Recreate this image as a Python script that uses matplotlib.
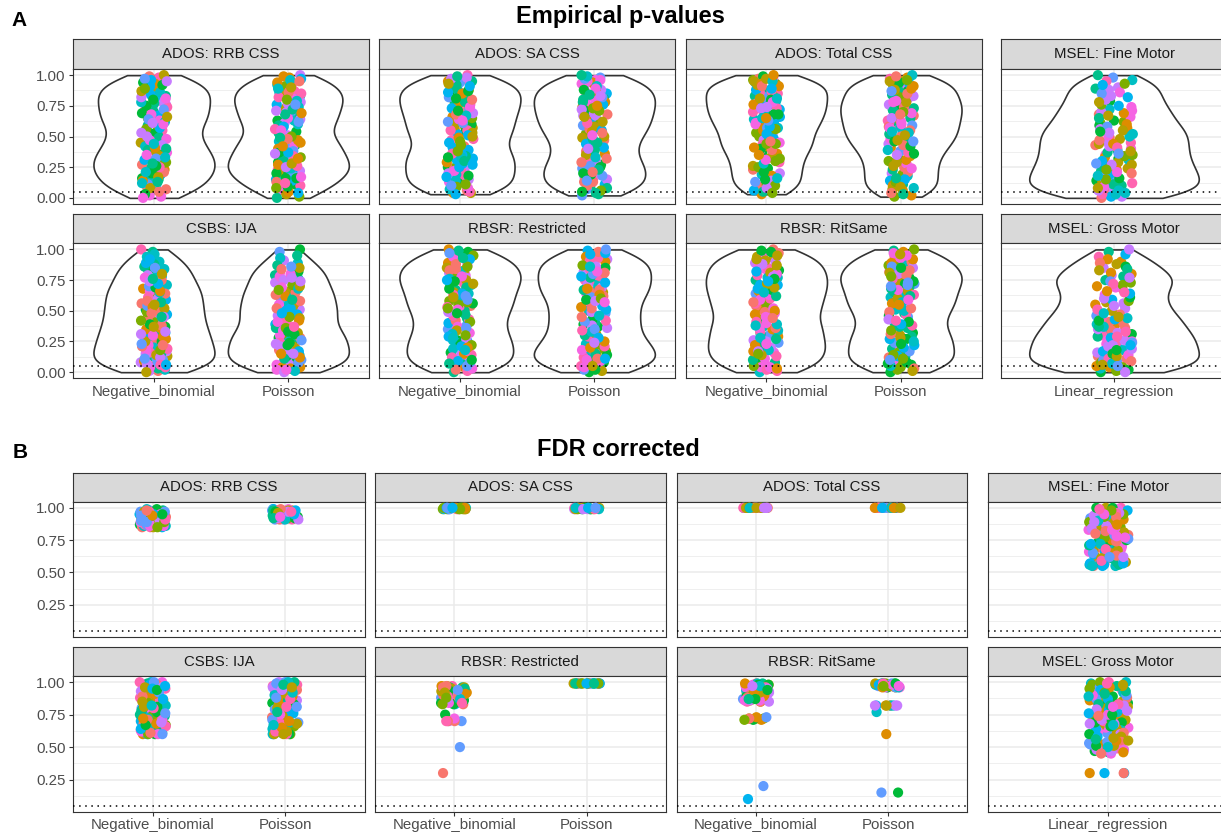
import numpy as np
import matplotlib
matplotlib.use("Agg")
import matplotlib.pyplot as plt

plt.rcParams['font.family'] = ['Liberation Sans', 'DejaVu Sans']

# ---------------- data ----------------
models = ["Negative_binomial", "Poisson"]
lmModel = ["Linear_regression"]
facetNames = ["ADOS: RRB CSS", "ADOS: SA CSS", "ADOS: Total CSS", "MSEL: Fine Motor",
              "CSBS: IJA", "RBSR: Restricted", "RBSR: RitSame", "MSEL: Gross Motor"]
yTicksA = [0.0, 0.25, 0.5, 0.75, 1.0]
yTicksB = [0.25, 0.5, 0.75, 1.0]
cutoff = 0.05

# Empirical p-values (in hundredths)
rrbNB = np.array([0, 1, 2, 3, 5, 6, 7, 8, 9,
                  10, 11, 12, 13, 14, 15, 15, 16, 17, 18, 19,
                  20, 21, 21, 22, 23, 24, 25, 25, 26, 27, 28, 28, 29,
                  30, 31, 32, 32, 33, 34, 35, 36, 37, 37, 38, 39,
                  40, 41, 42, 43, 44, 45, 46, 47, 48, 49,
                  50, 51, 52, 53, 55, 56, 57, 58, 59,
                  60, 61, 62, 63, 64, 65, 65, 66, 67, 68, 69,
                  70, 71, 72, 73, 74, 74, 75, 76, 77, 78, 79,
                  80, 81, 82, 82, 83, 84, 85, 86, 87, 87, 88, 89,
                  90, 91, 92, 93, 94, 95, 96, 97, 98, 99, 100]) / 100
rrbPois = np.array([0, 1, 3, 4, 5, 6, 8, 9,
                    10, 11, 12, 13, 14, 15, 16, 16, 17, 18, 19,
                    20, 21, 21, 22, 23, 23, 24, 25, 26, 26, 27, 28, 28, 29,
                    30, 31, 32, 32, 33, 34, 35, 36, 37, 37, 38, 39,
                    40, 41, 42, 43, 44, 45, 45, 46, 47, 48, 49,
                    50, 51, 53, 54, 55, 56, 58, 59,
                    60, 61, 62, 63, 63, 64, 65, 66, 67, 68, 69,
                    70, 71, 72, 73, 74, 75, 76, 76, 77, 78, 79,
                    80, 81, 81, 82, 83, 84, 85, 86, 86, 87, 88, 89,
                    90, 91, 92, 93, 94, 95, 96, 97, 98, 99, 100]) / 100
saNB = np.array([3, 4, 4, 5, 6, 7, 8, 9,
                 10, 11, 12, 13, 14, 14, 15, 16, 17, 18, 19,
                 20, 21, 22, 23, 24, 25, 25, 26, 27, 28, 29,
                 30, 31, 32, 33, 33, 34, 35, 36, 37, 38, 39,
                 40, 41, 42, 43, 45, 46, 47, 48, 49,
                 50, 51, 52, 53, 54, 55, 55, 56, 57, 58, 59,
                 60, 61, 62, 63, 64, 65, 66, 66, 67, 68, 69,
                 70, 71, 72, 72, 73, 74, 75, 76, 77, 77, 78, 79,
                 80, 81, 81, 82, 83, 84, 85, 85, 86, 87, 88, 88, 89,
                 90, 91, 92, 93, 94, 95, 95, 96, 97, 98, 99, 100]) / 100
saPois = np.array([2, 3, 4, 5, 6, 7, 8, 9,
                   10, 11, 12, 13, 13, 14, 15, 16, 17, 18, 19,
                   20, 21, 22, 23, 24, 24, 25, 26, 27, 28, 29,
                   30, 31, 32, 33, 35, 36, 37, 38, 39,
                   40, 41, 42, 44, 45, 46, 47, 48, 49,
                   50, 51, 52, 53, 54, 55, 56, 56, 57, 58, 59,
                   60, 61, 62, 62, 63, 64, 65, 66, 67, 67, 68, 69,
                   70, 71, 71, 72, 73, 74, 75, 75, 76, 77, 78, 78, 79,
                   80, 81, 82, 82, 83, 84, 85, 85, 86, 87, 88, 88, 89,
                   90, 91, 92, 93, 94, 95, 96, 96, 97, 98, 99, 100]) / 100
totalNB = np.array([3, 4, 5, 6, 8, 9,
                    10, 11, 13, 14, 15, 16, 18, 19,
                    20, 21, 23, 24, 25, 26, 28, 29,
                    30, 31, 32, 33, 35, 36, 37, 38, 39,
                    40, 41, 42, 43, 44, 44, 45, 46, 47, 48, 49,
                    50, 51, 52, 53, 54, 55, 56, 57, 57, 58, 59,
                    60, 61, 61, 62, 63, 64, 65, 65, 66, 67, 68, 68, 69,
                    70, 71, 71, 72, 73, 73, 74, 75, 76, 76, 77, 78, 78, 79,
                    80, 81, 81, 82, 83, 84, 84, 85, 86, 86, 87, 88, 88, 89,
                    90, 91, 91, 92, 93, 93, 94, 95, 95, 96, 97, 97, 98, 99, 100]) / 100
totalPois = np.array([1, 2, 3, 4, 6, 7, 8, 9,
                      10, 11, 13, 14, 15, 16, 18, 19,
                      20, 21, 23, 24, 25, 26, 28, 29,
                      30, 31, 32, 34, 35, 36, 37, 38, 39,
                      40, 41, 42, 43, 44, 45, 46, 46, 47, 48, 49,
                      50, 51, 51, 52, 53, 54, 54, 55, 56, 57, 58, 58, 59,
                      60, 61, 62, 62, 63, 64, 65, 65, 66, 67, 68, 68, 69,
                      70, 71, 71, 72, 73, 74, 74, 75, 76, 76, 77, 78, 78, 79,
                      80, 81, 82, 83, 83, 84, 85, 86, 87, 87, 88, 89,
                      90, 91, 92, 92, 93, 94, 95, 96, 96, 97, 98, 99, 100]) / 100
fineLR = np.array([0, 1, 1, 2, 3, 3, 4, 5, 6, 6, 7, 8, 8, 9,
                   10, 11, 12, 12, 13, 14, 15, 15, 16, 17, 18, 18, 19,
                   20, 21, 22, 23, 23, 24, 25, 26, 27, 27, 28, 29,
                   30, 31, 32, 33, 34, 35, 35, 36, 37, 38, 39,
                   40, 41, 42, 43, 44, 44, 45, 46, 47, 48, 49,
                   50, 51, 52, 53, 53, 54, 55, 56, 57, 58, 59,
                   60, 61, 62, 63, 65, 66, 67, 68, 69,
                   70, 71, 72, 74, 75, 76, 78, 79,
                   80, 82, 83, 85, 86, 88, 89,
                   90, 92, 93, 95, 96, 98, 100]) / 100
ijaNB = np.array([0, 1, 1, 2, 3, 4, 4, 5, 6, 6, 7, 8, 8, 9,
                  10, 11, 11, 12, 13, 13, 14, 15, 16, 16, 17, 18, 18, 19,
                  20, 21, 22, 22, 23, 24, 25, 25, 26, 27, 28, 28, 29,
                  30, 31, 32, 33, 33, 34, 35, 36, 37, 37, 38, 39,
                  40, 41, 42, 43, 44, 45, 45, 46, 47, 48, 49,
                  50, 51, 52, 53, 54, 54, 55, 56, 57, 58, 59,
                  60, 61, 62, 63, 64, 65, 66, 66, 67, 68, 69,
                  70, 71, 72, 74, 75, 76, 77, 78, 79,
                  80, 81, 83, 84, 85, 86, 88, 89,
                  90, 92, 94, 96, 98, 100]) / 100
ijaPois = np.array([0, 1, 2, 2, 3, 4, 4, 5, 6, 7, 7, 8, 9, 9,
                    10, 11, 12, 12, 13, 14, 14, 15, 15, 16, 17, 17, 18, 19,
                    20, 21, 21, 22, 23, 24, 24, 25, 26, 26, 27, 28, 28, 29,
                    30, 31, 31, 32, 33, 34, 35, 36, 36, 37, 38, 39,
                    40, 41, 42, 43, 44, 45, 46, 47, 47, 48, 49,
                    50, 51, 52, 52, 53, 54, 55, 56, 57, 58, 59,
                    60, 61, 62, 63, 64, 64, 65, 66, 67, 68, 69,
                    70, 71, 73, 74, 75, 76, 77, 78, 79,
                    80, 81, 82, 84, 85, 86, 87, 89,
                    91, 93, 95, 98, 100]) / 100
restrNB = np.array([0, 1, 2, 3, 4, 5, 5, 6, 7, 8, 9,
                    10, 11, 12, 13, 14, 14, 15, 16, 17, 18, 19,
                    20, 21, 22, 23, 24, 25, 26, 26, 27, 28, 29,
                    30, 31, 32, 34, 35, 36, 37, 38, 39,
                    40, 41, 42, 43, 44, 46, 47, 48, 49,
                    50, 51, 52, 53, 53, 54, 55, 56, 57, 58, 59,
                    60, 61, 62, 63, 64, 64, 65, 66, 67, 68, 69,
                    70, 71, 72, 72, 73, 74, 75, 75, 76, 77, 78, 78, 79,
                    80, 81, 82, 83, 83, 84, 85, 86, 86, 87, 88, 89,
                    90, 91, 92, 93, 94, 95, 96, 97, 98, 99, 100]) / 100
restrPois = np.array([0, 1, 2, 2, 3, 4, 5, 5, 6, 7, 8, 8, 9,
                      10, 11, 11, 12, 13, 14, 14, 15, 16, 17, 17, 18, 19,
                      20, 21, 22, 23, 23, 24, 25, 26, 27, 28, 29,
                      30, 31, 33, 34, 35, 36, 37, 38, 39,
                      40, 41, 42, 43, 45, 46, 47, 48, 49,
                      50, 51, 52, 53, 54, 56, 57, 58, 59,
                      60, 61, 62, 63, 64, 65, 66, 67, 67, 68, 69,
                      70, 71, 72, 73, 73, 74, 75, 76, 77, 78, 79,
                      80, 81, 82, 82, 83, 84, 85, 86, 86, 87, 88, 89,
                      90, 91, 92, 93, 94, 95, 96, 97, 98, 99, 100]) / 100
ritNB = np.array([0, 1, 2, 3, 4, 4, 5, 6, 7, 8, 9,
                  10, 11, 12, 13, 14, 15, 16, 17, 17, 18, 19,
                  20, 21, 22, 23, 23, 24, 25, 26, 27, 28, 29,
                  30, 31, 32, 33, 34, 35, 36, 36, 37, 38, 39,
                  40, 41, 42, 43, 44, 45, 47, 48, 49,
                  50, 51, 52, 52, 53, 54, 55, 56, 57, 58, 59,
                  60, 61, 62, 63, 64, 65, 65, 66, 67, 68, 69,
                  70, 71, 71, 72, 73, 74, 75, 76, 77, 77, 78, 79,
                  80, 81, 82, 83, 84, 84, 85, 86, 87, 88, 89,
                  90, 91, 92, 93, 94, 95, 96, 97, 98, 99, 100]) / 100
ritPois = np.array([0, 1, 2, 3, 4, 5, 6, 6, 7, 8, 9,
                    10, 11, 12, 13, 13, 14, 15, 16, 17, 18, 19,
                    20, 21, 22, 23, 24, 25, 26, 27, 27, 28, 29,
                    30, 31, 32, 33, 34, 36, 37, 38, 39,
                    40, 41, 42, 43, 45, 46, 47, 48, 49,
                    50, 51, 52, 53, 54, 55, 55, 56, 57, 58, 59,
                    60, 61, 62, 63, 63, 64, 65, 66, 67, 68, 69,
                    70, 71, 72, 72, 73, 74, 74, 75, 76, 77, 77, 78, 79,
                    80, 81, 81, 82, 83, 84, 85, 85, 86, 87, 88, 89,
                    90, 91, 92, 93, 94, 95, 96, 97, 98, 99, 100]) / 100
grossLR = np.array([0, 0, 1, 2, 2, 3, 4, 4, 5, 5, 6, 7, 7, 8, 9, 9,
                    10, 11, 11, 12, 13, 13, 14, 15, 16, 16, 17, 18, 18, 19,
                    20, 21, 22, 22, 23, 24, 24, 25, 26, 26, 27, 28, 29, 29,
                    30, 31, 32, 32, 33, 34, 35, 36, 37, 37, 38, 39,
                    40, 41, 42, 43, 44, 44, 45, 46, 47, 48, 49,
                    50, 51, 52, 54, 55, 56, 57, 58, 59,
                    60, 61, 63, 64, 65, 66, 68, 69,
                    70, 71, 72, 73, 74, 75, 75, 76, 77, 78, 79,
                    80, 81, 83, 84, 85, 86, 88, 89,
                    90, 92, 94, 96, 98, 100]) / 100

# FDR corrected p-values (in hundredths)
rrbNB_fdr = np.array([85, 85, 85, 85, 85, 86, 86, 86, 86, 86, 87, 87, 87, 87, 87, 87,
                      88, 88, 88, 88, 88, 89, 89, 89, 89, 89, 90, 90, 90, 90, 90,
                      91, 91, 91, 91, 91, 92, 92, 92, 92, 92, 92, 93, 93, 93, 93, 93, 93,
                      94, 94, 94, 94, 94, 94, 95, 95, 95, 95, 95, 95, 96, 96, 96, 96, 96, 96,
                      97, 97, 97, 97, 97, 97, 98, 98, 98, 98, 99, 99]) / 100
rrbPois_fdr = np.array([91, 91, 91, 91, 91, 91, 92, 92, 92, 92, 92, 92, 92,
                        93, 93, 93, 93, 93, 93, 93, 93, 94, 94, 94, 94, 94, 94, 94, 94,
                        95, 95, 95, 95, 95, 95, 95, 95, 96, 96, 96, 96, 96, 96, 96, 96,
                        97, 97, 97, 97, 97, 97, 97, 97, 98, 98, 98, 98, 98, 98, 98,
                        99, 99, 99, 99]) / 100
saNB_fdr = np.array([99, 99, 99, 99, 99, 99, 99, 99, 99, 99, 99, 99, 99, 99,
                     100, 100, 100, 100, 100, 100, 100, 100, 100, 100, 100, 100, 100, 100]) / 100
saPois_fdr = np.array([99, 99, 99, 99, 99, 99, 99, 99, 99, 99, 99, 99, 99, 99,
                       100, 100, 100, 100, 100, 100, 100, 100, 100, 100, 100, 100, 100, 100]) / 100
totalNB_fdr = np.array([100, 100, 100, 100, 100, 100, 100, 100, 100, 100, 100, 100, 100,
                        100, 100, 100, 100, 100, 100, 100, 100, 100, 100, 100, 100, 100]) / 100
totalPois_fdr = np.array([100, 100, 100, 100, 100, 100, 100, 100, 100, 100, 100, 100, 100,
                          100, 100, 100, 100, 100, 100, 100, 100, 100, 100, 100, 100, 100]) / 100
fineLR_fdr = np.array([55, 55, 55, 55, 56, 56, 56, 57, 57, 57, 57, 58, 58, 59, 59, 60, 60,
                       61, 61, 62, 62, 63, 63, 64, 64, 65, 65, 66, 66, 67, 67, 68, 68, 69, 69,
                       70, 70, 71, 71, 72, 72, 73, 73, 74, 74, 75, 75, 76, 76, 77, 77, 78, 78,
                       79, 79, 80, 80, 81, 81, 82, 82, 83, 83, 84, 84, 85, 85, 86, 86, 87, 87,
                       88, 88, 89, 89, 90, 90, 91, 91, 92, 92, 93, 93, 94, 94, 95, 95, 96, 96,
                       97, 97, 98, 98, 99, 99, 100, 100, 100, 100]) / 100
ijaNB_fdr = np.array([60, 60, 60, 60, 60, 60, 61, 61, 62, 62, 63, 63, 64, 64, 65, 65,
                      66, 66, 67, 67, 68, 68, 69, 69, 70, 70, 71, 71, 72, 72, 73, 73,
                      74, 74, 75, 75, 76, 76, 77, 77, 78, 78, 79, 79, 80, 80, 81, 81,
                      82, 82, 83, 83, 84, 84, 85, 85, 86, 86, 87, 87, 88, 88, 89, 89,
                      90, 90, 91, 91, 92, 92, 93, 93, 94, 94, 95, 95, 96, 96, 97, 97,
                      98, 98, 99, 99, 100, 100, 100, 100]) / 100
ijaPois_fdr = np.array([60, 60, 60, 60, 60, 60, 60, 61, 62, 62, 63, 64, 64, 65, 66, 66,
                        67, 67, 68, 68, 69, 69, 70, 71, 71, 72, 72, 73, 74, 74, 75, 75,
                        76, 77, 77, 78, 78, 79, 80, 80, 81, 81, 82, 83, 83, 84, 84, 85,
                        86, 86, 87, 87, 88, 89, 89, 90, 90, 91, 92, 92, 93, 93, 94, 94,
                        95, 95, 96, 96, 97, 97, 98, 98, 99, 99, 100, 100, 100, 100]) / 100
restrNB_fdr = np.array([30, 50, 70, 70, 70, 70, 70, 72, 75,
                        83, 83, 83, 83, 84, 84, 84, 84, 85, 85, 85, 85, 86, 86, 86, 86,
                        87, 87, 87, 87, 88, 88, 88, 88, 89, 89, 89, 89, 90, 90, 90, 90,
                        91, 91, 91, 91, 92, 92, 92, 92, 93, 93, 93, 93, 94, 94, 94, 94,
                        95, 95, 95, 95, 96, 96, 96, 96, 97, 97, 97, 97]) / 100
restrPois_fdr = np.array([99, 99, 99, 99, 99, 99, 99, 99, 99, 99, 99, 99, 99,
                          99, 99, 99, 99, 99, 99, 99, 99, 99, 99, 99, 99, 99]) / 100
ritNB_fdr = np.array([10, 20, 71, 71, 71, 72, 72, 72, 72, 73, 73,
                      85, 85, 85, 85, 86, 86, 86, 86, 87, 87, 87, 87, 88, 88, 88, 88,
                      89, 89, 89, 89, 90, 90, 90, 90, 91, 91, 91, 91, 92, 92, 92, 92,
                      93, 93, 93, 93, 94, 94, 94, 94, 95, 95, 95, 95, 96, 96, 96, 96,
                      97, 97, 97, 97, 98, 98, 98, 98, 99, 99, 99, 99]) / 100
ritPois_fdr = np.array([15, 15, 60, 77, 82, 82, 82, 82, 82, 82, 82, 82, 82,
                        96, 96, 96, 96, 96, 96, 96, 96, 97, 97, 97, 97, 97, 97, 97, 97, 97, 97,
                        98, 98, 98, 98, 98, 98, 98, 98, 98, 98, 99, 99, 99, 99, 99, 99, 99, 99]) / 100
grossLR_fdr = np.array([30, 30, 30, 30, 45, 45, 46, 46, 47, 47, 48, 48, 49, 49, 50, 50,
                        51, 51, 52, 52, 53, 53, 54, 54, 55, 55, 56, 56, 57, 57, 58, 58,
                        59, 59, 60, 60, 61, 61, 62, 62, 63, 63, 64, 64, 65, 65, 66, 66,
                        67, 67, 68, 68, 69, 69, 70, 70, 71, 71, 72, 72, 73, 73, 74, 74,
                        75, 75, 76, 76, 77, 77, 78, 78, 79, 79, 80, 80, 81, 81, 82, 82,
                        83, 83, 84, 84, 85, 85, 86, 86, 87, 87, 88, 88, 89, 89, 90, 90,
                        91, 91, 92, 92, 93, 93, 94, 94, 95, 95, 96, 96, 97, 97, 98, 98,
                        99, 99, 100, 100, 100]) / 100

groupsA = [[rrbNB, rrbPois], [saNB, saPois], [totalNB, totalPois], [fineLR],
           [ijaNB, ijaPois], [restrNB, restrPois], [ritNB, ritPois], [grossLR]]
groupsB = [[rrbNB_fdr, rrbPois_fdr], [saNB_fdr, saPois_fdr], [totalNB_fdr, totalPois_fdr], [fineLR_fdr],
           [ijaNB_fdr, ijaPois_fdr], [restrNB_fdr, restrPois_fdr], [ritNB_fdr, ritPois_fdr], [grossLR_fdr]]

# ggplot-like hue palette (12 levels)
palette = ["#F8766D", "#DE8C00", "#B79F00", "#7CAE00", "#00BA38", "#00C08B",
           "#00BFC4", "#00B4F0", "#619CFF", "#C77CFF", "#F564E3", "#FF64B0"]

W, H = 1221, 836
fig = plt.figure(figsize=(W / 100, H / 100), dpi=100)
fig.patch.set_facecolor("white")

# pixel layout: column x-ranges, rows as (strip top, strip bottom / panel top, panel bottom)
colsA = [(73.3, 369), (379.3, 675), (685.7, 981.7), (1001, 1227)]
rowsA = [(39, 69, 204), (214.3, 243.3, 378.3)]
colsB = [(73.3, 364.7), (374.7, 666), (676.7, 967.3), (987.7, 1229)]
rowsB = [(472.7, 501.7, 636.7), (647, 676, 811.7)]


# Gaussian kernel density along the data range (trimmed violin)
def violinOutline(vals, adjust=0.75):
    v = np.asarray(vals, dtype=float)
    n = len(v)
    q75, q25 = np.percentile(v, [75, 25])
    bw = 0.9 * min(v.std(ddof=1), (q75 - q25) / 1.34) * n ** -0.2 * adjust
    grid = np.linspace(v.min(), v.max(), 300)
    dens = np.exp(-0.5 * ((grid[:, None] - v[None, :]) / bw) ** 2).sum(axis=1)
    return grid, dens / dens.max()


# deterministic scatter of numbers in [0, 1) used for jitter / colour / draw order
def hashFrac(idx, seed):
    h = np.sin(idx * 12.9898 + seed * 78.233) * 43758.5453
    return h - np.floor(h)


# One facet: strip on top, panel with jittered points (and violins)
def drawFacet(col, row, title, groups, labels, ylim, yticks, showY, showX, violins, seed):
    x0, x1 = col
    sTop, pTop, pBot = row
    strip = fig.add_axes([x0 / W, 1 - pTop / H, (x1 - x0) / W, (pTop - sTop) / H])
    strip.set_facecolor("#D9D9D9")
    strip.set_xticks([])
    strip.set_yticks([])
    for s in strip.spines.values():
        s.set_color("#333333")
        s.set_linewidth(0.8)
    strip.text(0.5, 0.5, title, ha="center", va="center", fontsize=10.8,
               color="#1A1A1A", transform=strip.transAxes)

    ax = fig.add_axes([x0 / W, 1 - pBot / H, (x1 - x0) / W, (pBot - pTop) / H])
    nCat = len(groups)
    ax.set_xlim(0.4, nCat + 0.6)
    ax.set_ylim(*ylim)
    ax.set_yticks(yticks)
    ax.set_yticks(np.arange(0.125, 1.0, 0.25), minor=True)
    ax.set_yticklabels(["%.2f" % t for t in yticks])
    ax.set_xticks(range(1, nCat + 1))
    ax.set_xticklabels(labels)
    ax.set_axisbelow(True)
    ax.grid(which="major", color="#EBEBEB", linewidth=1.1)
    ax.grid(which="minor", axis="y", color="#EBEBEB", linewidth=0.55)
    ax.tick_params(which="minor", length=0)
    ax.tick_params(which="major", length=2.6, width=0.8, color="#333333",
                   labelsize=10.8, labelcolor="#4D4D4D", pad=3)
    ax.tick_params(axis="y", left=showY, labelleft=showY)
    ax.tick_params(axis="x", bottom=showX, labelbottom=showX, pad=2)
    for s in ax.spines.values():
        s.set_color("#333333")
        s.set_linewidth(0.8)

    for k, vals in enumerate(groups):
        pos = k + 1
        if violins:
            grid, dens = violinOutline(vals)
            ax.fill_betweenx(grid, pos - 0.45 * dens, pos + 0.45 * dens,
                             facecolor="white", edgecolor="#333333", linewidth=1.2, zorder=2)
        y = np.asarray(vals)
        idx = np.arange(len(y))
        s0 = seed * 3 + k
        # perturbed golden-ratio spread keeps the column evenly filled
        spread = (idx * 0.6180339887 + 0.35 * hashFrac(idx, s0)) % 1.0
        jitter = (spread - 0.5) * 0.2
        colors = np.array([palette[int(c * 12)] for c in hashFrac(idx, s0 + 50)])
        order = np.argsort(hashFrac(idx, s0 + 100))
        ax.scatter(pos + jitter[order], y[order], s=54, c=colors[order], linewidths=0, zorder=3)

    ax.axhline(cutoff, color="black", linestyle=(0, (1, 3)), linewidth=1.1, zorder=4)


def drawPanel(cols, rows, groupSets, ylim, yticks, violins, seed):
    for i in range(8):
        r, c = divmod(i, 4)
        labels = lmModel if c == 3 else models
        drawFacet(cols[c], rows[r], facetNames[i], groupSets[i], labels,
                  ylim, yticks, showY=(c == 0), showX=(r == 1), violins=violins, seed=seed + i)


drawPanel(colsA, rowsA, groupsA, (-0.05, 1.05), yTicksA, True, 1)
drawPanel(colsB, rowsB, groupsB, (0.0025, 1.0475), yTicksB, False, 20)

# panel titles and tags
fig.text(620 / W, 1 - 17 / H, "Empirical p-values", ha="center", va="center",
         fontsize=17, fontweight="bold")
fig.text(618 / W, 1 - 450 / H, "FDR corrected", ha="center", va="center",
         fontsize=17, fontweight="bold")
fig.text(19 / W, 1 - 20 / H, "A", ha="center", va="center", fontsize=15, fontweight="bold")
fig.text(20 / W, 1 - 452 / H, "B", ha="center", va="center", fontsize=15, fontweight="bold")

fig.savefig("out.png", dpi=100)
